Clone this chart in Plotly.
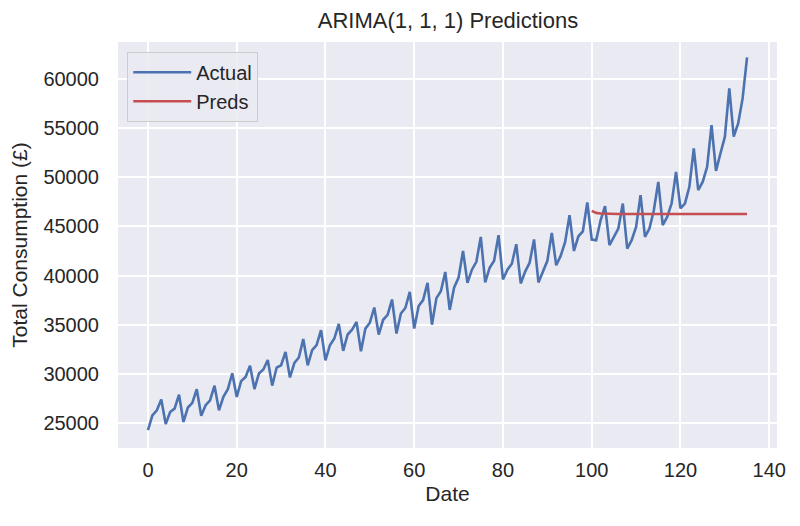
import plotly.graph_objects as go

# Quarterly index (Date axis)
actual_x = list(range(0, 136))
actual_y = [
    24260, 25780, 26290, 27380,
    24900, 26120, 26460, 27870,
    25100, 26570, 27040, 28430,
    25730, 26800, 27310, 28790,
    26290, 27650, 28430, 30060,
    27650, 29250, 29680, 30820,
    28450, 30030, 30440, 31410,
    28800, 30640, 30870, 32230,
    29630, 31110, 31660, 33540,
    30870, 32400, 32910, 34440,
    31380, 32910, 33590, 35080,
    32340, 34000, 34490, 35280,
    32300, 34600, 35200, 36750,
    34000, 35500, 36000, 37560,
    34100, 36140, 36700, 38340,
    34600, 36900, 37500, 39250,
    35000, 37700, 38400, 40370,
    36500, 38800, 39800, 42510,
    39250, 40600, 41400, 43930,
    39300, 40800, 41500, 44110,
    39600, 40600, 41200, 43190,
    39200, 40400, 41300, 43670,
    39300, 40500, 41500, 44340,
    41050, 42000, 43400, 46140,
    42500, 44000, 44500, 47440,
    43670, 43600, 45630, 47060,
    43090, 43930, 44790, 47330,
    42750, 43600, 44950, 48180,
    43930, 44790, 46650, 49530,
    45130, 45970, 47330, 50550,
    46830, 47330, 49030, 52930,
    48690, 49530, 51060, 55310,
    50650, 52420, 54110, 59040,
    54150, 55480, 58030, 62200,
]

preds_x = list(range(100, 136))
preds_y = [
    46580, 46380, 46310, 46285, 46275, 46270, 46268, 46267, 46266, 46266,
    46265, 46265, 46265, 46265, 46265, 46265, 46265, 46265, 46265, 46265,
    46265, 46265, 46265, 46265, 46265, 46265, 46265, 46265, 46265, 46265,
    46265, 46265, 46265, 46265, 46265, 46265,
]

x_ticks = [0, 20, 40, 60, 80, 100, 120, 140]
y_ticks = [25000, 30000, 35000, 40000, 45000, 50000, 55000, 60000]
y_tick_labels = ["25000", "30000", "35000", "40000", "45000", "50000", "55000", "60000"]

title_text = "ARIMA(1, 1, 1) Predictions"
x_label = "Date"
y_label = "Total Consumption (£)"

FONT = "Liberation Sans, Arial, sans-serif"
TXT = "#262626"

fig = go.Figure()
fig.add_trace(go.Scatter(x=actual_x, y=actual_y, mode="lines", name="Actual",
                         line=dict(color="#4C72B0", width=2.6)))
fig.add_trace(go.Scatter(x=preds_x, y=preds_y, mode="lines", name="Preds",
                         line=dict(color="#C44E52", width=2.6)))

fig.update_layout(
    width=800, height=526,
    margin=dict(l=118, r=23, t=42, b=78),
    paper_bgcolor="white",
    plot_bgcolor="#EAEAF2",
    font=dict(family=FONT, size=20, color=TXT),
    title=dict(text=title_text, x=0.56, xanchor="center", y=0.962, yanchor="middle",
               font=dict(family=FONT, size=22, color=TXT)),
    showlegend=True,
    legend=dict(x=0.014, y=0.976, xanchor="left", yanchor="top",
                bgcolor="rgba(234,234,242,0.9)", bordercolor="#CCCCCC", borderwidth=1,
                font=dict(family=FONT, size=20, color=TXT),
                itemwidth=58, tracegroupgap=8),
)

fig.update_xaxes(
    range=[-6.75, 141.75], tickmode="array", tickvals=x_ticks,
    showgrid=True, gridcolor="white", gridwidth=1.8, zeroline=False,
    showline=False, ticks="", ticklabelstandoff=8,
    tickfont=dict(family=FONT, size=20, color=TXT),
    title=dict(text=x_label, font=dict(family=FONT, size=21, color=TXT), standoff=6),
)
fig.update_yaxes(
    range=[22450, 63770], tickmode="array", tickvals=y_ticks, ticktext=y_tick_labels,
    showgrid=True, gridcolor="white", gridwidth=1.8, zeroline=False,
    showline=False, ticks="", ticklabelstandoff=18,
    tickfont=dict(family=FONT, size=20, color=TXT),
    title=dict(text=y_label, font=dict(family=FONT, size=21, color=TXT), standoff=10),
)

fig.write_html("out.html")
